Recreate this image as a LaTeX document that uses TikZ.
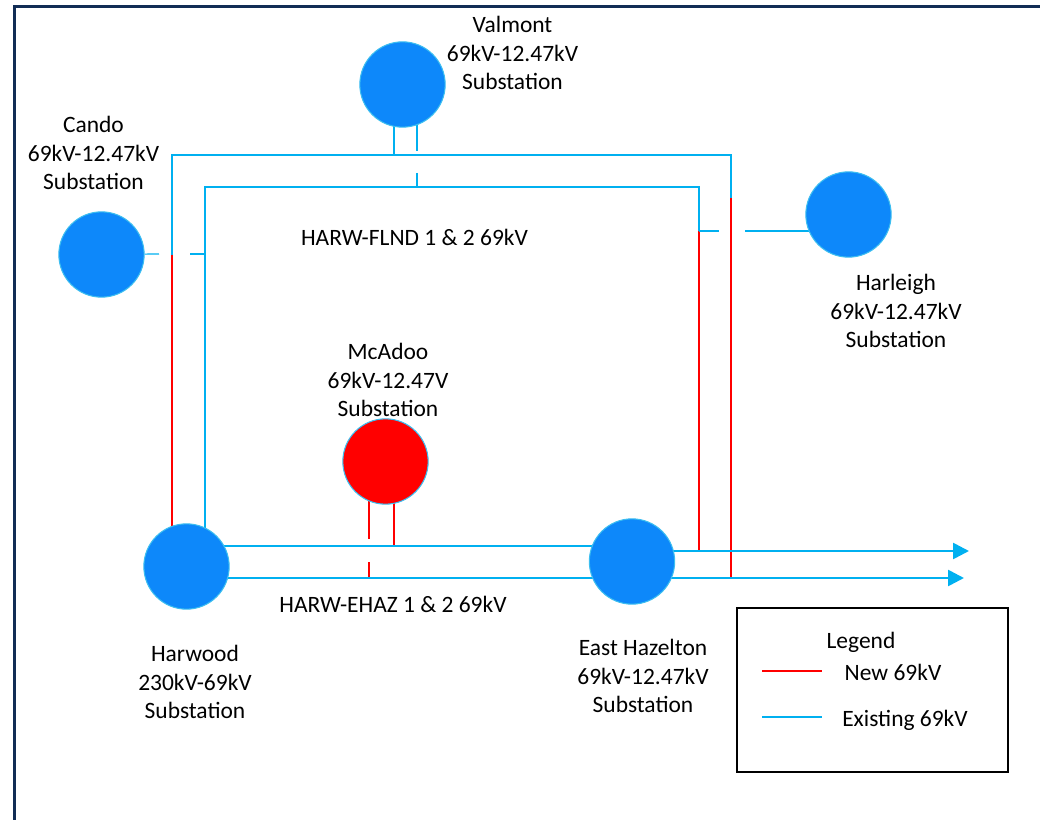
\documentclass[tikz,border=0pt]{standalone}
\usepackage{fontspec}
\setmainfont{Carlito}
\usetikzlibrary{arrows.meta}
\pgfdeclarelayer{bg}
\pgfsetlayers{bg,main}
\definecolor{subblue}{RGB}{13,136,250}
\definecolor{subrim}{RGB}{60,190,240}
\definecolor{oldcyan}{RGB}{0,176,240}
\definecolor{newred}{RGB}{255,0,0}
\definecolor{framenavy}{RGB}{18,45,85}
\tikzset{
  sub/.style={circle, fill=subblue, draw=subrim, line width=0.8pt, minimum size=64pt, inner sep=0pt},
  newsub/.style={sub, fill=newred},
  lbl/.style={align=center, text=black, font=\fontsize{17.6}{21.4}\selectfont},
  old/.style={draw=oldcyan, line width=0.9pt},
  new/.style={draw=newred, line width=0.9pt},
  bus/.style={old, line width=2pt},
  tip/.style={-{Triangle[length=12pt,width=12pt]}}
}
\begin{document}
\begin{tikzpicture}[x=0.75pt, y=-0.75pt]
  \useasboundingbox (0,0) rectangle (1040,820);
  \draw[framenavy, line width=2.3pt] (14.5,820) -- (14.5,6.5) -- (1040,6.5);

  % substations
  \node[sub] (cando) at (101.5,254.5) {};
  \node[sub] (valmont) at (402.5,84.5) {};
  \node[sub] (harleigh) at (848.5,214.5) {};
  \node[newsub] (mcadoo) at (385.5,461.5) {};
  \node[sub] (harwood) at (186.5,566.5) {};
  \node[sub] (hazelton) at (632,561.5) {};

  \node[lbl] (candolbl) at (93.5,153) {Cando\\69kV-12.47kV\\Substation};
  \node[lbl] (valmontlbl) at (512.5,53) {Valmont\\69kV-12.47kV\\Substation};
  \node[lbl] (harleighlbl) at (896,311) {Harleigh\\69kV-12.47kV\\Substation};
  \node[lbl] (mcadoolbl) at (388,380) {McAdoo\\69kV-12.47V\\Substation};
  \node[lbl] (harwoodlbl) at (195,682) {Harwood\\230kV-69kV\\Substation};
  \node[lbl] (hazeltonlbl) at (643,676) {East Hazelton\\69kV-12.47kV\\Substation};
  \node[lbl] (flnd) at (414.5,237) {HARW-FLND 1 \& 2 69kV};
  \node[lbl] (ehaz) at (393,604) {HARW-EHAZ 1 \& 2 69kV};

  % line corners
  \coordinate (oJ) at (172,255);
  \coordinate (oTR) at (731,155);
  \coordinate (oK) at (731,198);
  \coordinate (iTL) at (205,187);
  \coordinate (iTR) at (699,187);
  \coordinate (iJ) at (699,231);
  \coordinate (busA) at (0,546);
  \coordinate (busA2) at (0,551);
  \coordinate (busB) at (0,578);
  \coordinate (tipA) at (969,551);
  \coordinate (tipB) at (964,578);
  \coordinate (cA) at (159,254);
  \coordinate (cB) at (190,254);
  \coordinate (vA) at (394,155);
  \coordinate (vB) at (417,151);
  \coordinate (vC) at (417,173);
  \coordinate (hA) at (719,231);
  \coordinate (hB) at (745,231);
  \coordinate (mA) at (369,539);
  \coordinate (mB) at (369,562);
  \coordinate (mC) at (394,546);

  \begin{pgfonlayer}{bg}
    % HARW-FLND loops
    \draw[old] (oJ) |- (oTR) -- (oK);
    \draw[new] (oJ) -- (oJ |- harwood);
    \draw[new] (oK) -- (oK |- busB);
    \draw[old] (iTL |- harwood) -- (iTL) -- (iTR) -- (iJ);
    \draw[new] (iJ) -- (iJ |- busA2);
    % taps
    \draw[old] (cando) -- (cA);
    \draw[old] (cB) -- (cB -| iTL);
    \draw[old] (valmont -| vA) -- (vA);
    \draw[old] (valmont -| vB) -- (vB);
    \draw[old] (vC) -- (vC |- iTL);
    \draw[old] (iJ) -- (hA);
    \draw[old] (hB) -- (hB -| harleigh);
    \draw[new] (mcadoo -| mA) -- (mA);
    \draw[new] (mB) -- (mB |- busB);
    \draw[new] (mcadoo -| mC) -- (mC);
    % HARW-EHAZ
    \draw[bus] (harwood |- busA) -- (hazelton |- busA);
    \draw[bus, tip] (hazelton |- busA2) -- (tipA);
    \draw[bus, tip] (harwood |- busB) -- (tipB);
  \end{pgfonlayer}

  % legend
  \draw[black, line width=1.7pt] (737,608) rectangle (1008,772);
  \node[lbl] (legend) at (861,642) {Legend};
  \coordinate (lnA) at (762,671);
  \coordinate (lnB) at (822,671);
  \coordinate (loA) at (762,717);
  \coordinate (loB) at (822,717);
  \draw[new] (lnA) -- (lnB);
  \draw[old] (loA) -- (loB);
  \node[lbl] (newlbl) at (893,672) {New 69kV};
  \node[lbl] (oldlbl) at (905,720) {Existing 69kV};
\end{tikzpicture}
\end{document}
